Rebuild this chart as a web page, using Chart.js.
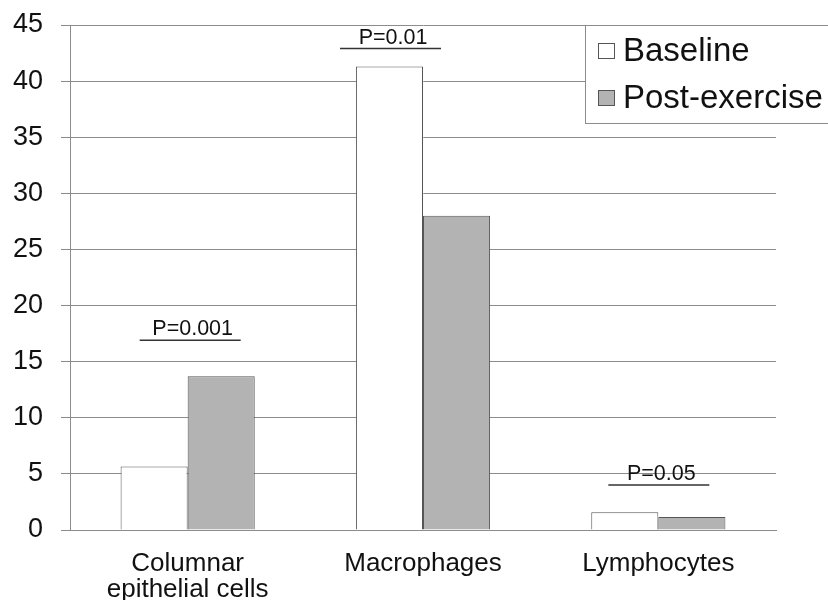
<!DOCTYPE html>
<html>
<head>
<meta charset="utf-8">
<script src="https://cdn.jsdelivr.net/npm/chart.js@4.4.1/dist/chart.umd.min.js"></script>
<style>
  html, body { margin: 0; padding: 0; background: #fff; }
  #wrap { width: 828px; height: 600px; }
</style>
</head>
<body>
<div id="wrap"><canvas id="cellChart" width="828" height="600"></canvas></div>
<script>
// Data
const categories = [['Columnar', 'epithelial cells'], 'Macrophages', 'Lymphocytes'];
const baseline = [5.65, 41.3, 1.58];
const postExercise = [13.7, 28.0, 1.16];
const pLabels = ['P=0.001', 'P=0.01', 'P=0.05'];
const pLevels = [16.9, 42.9, 4.0];
const yTicks = [0, 5, 10, 15, 20, 25, 30, 35, 40, 45];

const FONT = '"Liberation Sans", Arial, sans-serif';
const GRID = '#8c8c8c';

// Significance bars drawn over each category (x shift in px relative to category centre)
const pShift = [2, -33, 0];
const sigPlugin = {
    id: 'sigBars',
    afterDatasetsDraw(chart) {
        const { ctx, scales } = chart;
        ctx.save();
        pLabels.forEach((txt, i) => {
            const cx = scales.x.getPixelForValue(i) + pShift[i];
            const y = scales.y.getPixelForValue(pLevels[i]);
            ctx.strokeStyle = '#333';
            ctx.lineWidth = 1.5;
            ctx.beginPath();
            ctx.moveTo(cx - 50, y);
            ctx.lineTo(cx + 51, y);
            ctx.stroke();
            ctx.fillStyle = '#111';
            ctx.font = '21.5px ' + FONT;
            ctx.textAlign = 'center';
            ctx.textBaseline = 'alphabetic';
            ctx.fillText(txt, cx + 3, y - 5);
        });
        ctx.restore();
    }
};

// Boxed legend in the top-right corner, partly past the plot edge
const boxLegend = {
    id: 'boxLegend',
    afterDraw(chart) {
        const { ctx, chartArea } = chart;
        const left = 585, top = chartArea.top, w = 260, h = 98;
        ctx.save();
        ctx.fillStyle = '#fff';
        ctx.fillRect(left, top, w, h);
        ctx.strokeStyle = GRID;
        ctx.lineWidth = 1;
        ctx.strokeRect(left + 0.5, top + 0.5, w, h);
        ctx.font = '33px ' + FONT;
        ctx.textBaseline = 'middle';
        ctx.textAlign = 'left';
        chart.data.datasets.forEach((ds, i) => {
            const cy = top + 26 + i * 47;
            ctx.fillStyle = ds.backgroundColor;
            ctx.fillRect(598, cy - 8, 17, 16);
            ctx.strokeStyle = '#555';
            ctx.strokeRect(598.5, cy - 7.5, 16, 15);
            ctx.fillStyle = '#111';
            ctx.fillText(ds.label, 623, cy + 1);
        });
        ctx.restore();
    }
};

new Chart(document.getElementById('cellChart'), {
    type: 'bar',
    data: {
        labels: categories,
        datasets: [
            {
                label: 'Baseline',
                data: baseline,
                backgroundColor: '#ffffff',
                borderColor: '#555',
                borderWidth: 1,
                barPercentage: 1,
                categoryPercentage: 0.57
            },
            {
                label: 'Post-exercise',
                data: postExercise,
                backgroundColor: '#b3b3b3',
                borderColor: '#555',
                borderWidth: 1,
                barPercentage: 1,
                categoryPercentage: 0.57
            }
        ]
    },
    options: {
        responsive: false,
        animation: false,
        layout: { padding: { top: 25, right: 52, left: 0, bottom: 0 } },
        plugins: {
            legend: { display: false },
            tooltip: { enabled: false }
        },
        scales: {
            x: {
                grid: { display: false },
                border: { display: true, color: GRID, width: 1 },
                ticks: {
                    color: '#111',
                    font: { family: FONT, size: 26, lineHeight: 1.0 },
                    padding: 13,
                    maxRotation: 0,
                    autoSkip: false
                },
                afterFit(scale) { scale.height = 70; }
            },
            y: {
                min: 0,
                max: 45,
                afterBuildTicks(scale) { scale.ticks = yTicks.map(v => ({ value: v })); },
                grid: { color: GRID, lineWidth: 1, tickLength: 9, drawTicks: true },
                border: { display: true, color: GRID, width: 1 },
                ticks: {
                    color: '#111',
                    font: { family: FONT, size: 27 },
                    padding: 18
                },
                afterFit(scale) {
                    scale.width = 70;
                    scale.paddingTop = 0;
                    scale.paddingBottom = 0;
                }
            }
        }
    },
    plugins: [sigPlugin, boxLegend]
});
</script>
</body>
</html>
